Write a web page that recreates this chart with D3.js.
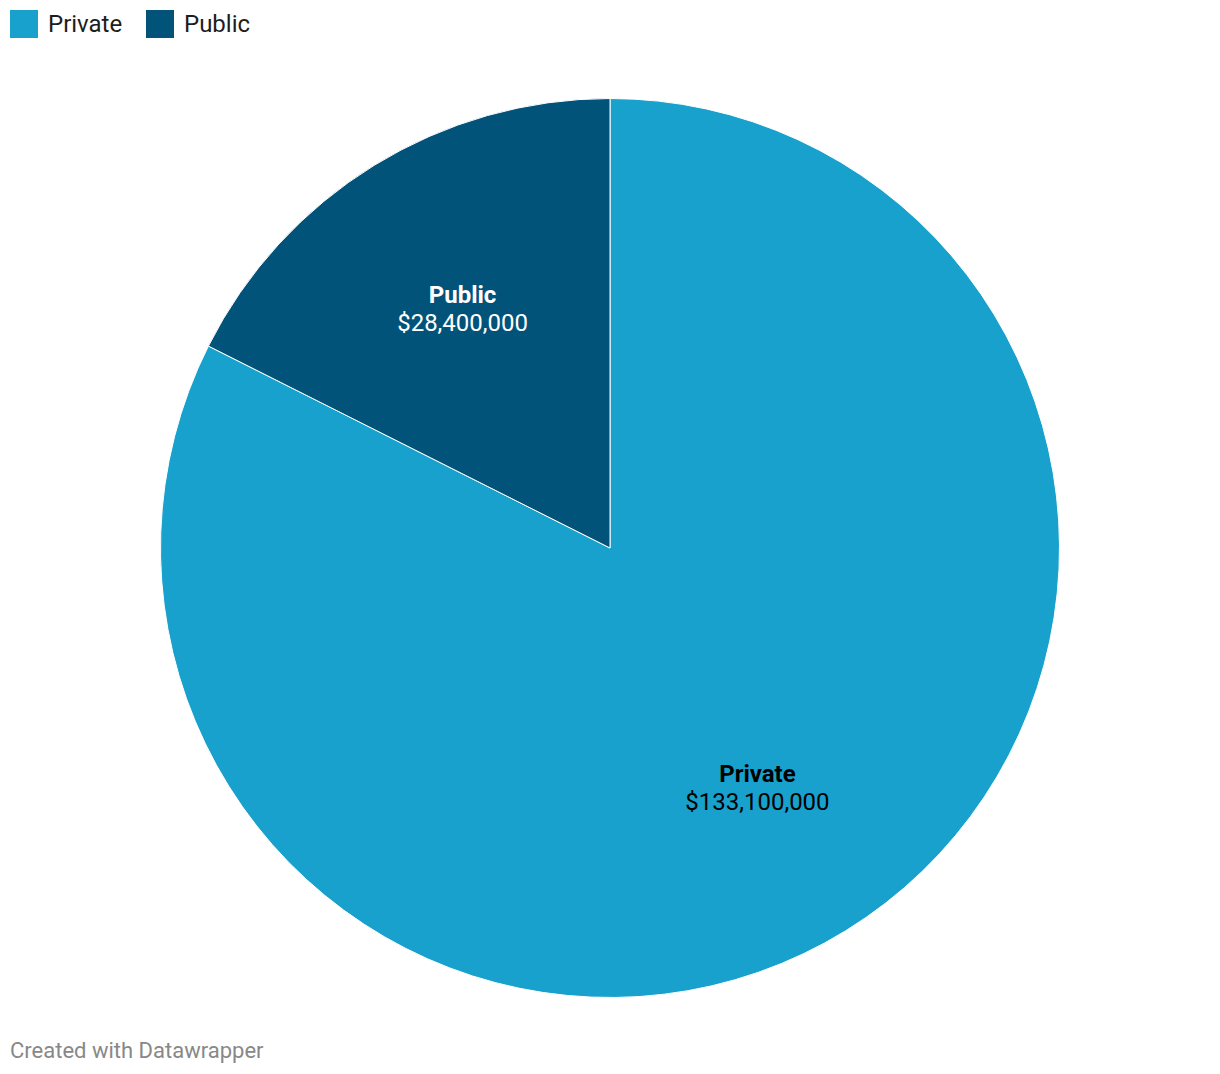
<!DOCTYPE html>
<html><head><meta charset="utf-8">
<script src="https://cdn.jsdelivr.net/npm/d3@7"></script>
<style>body{margin:0;background:#fff;font-family:Roboto,sans-serif;}</style>
</head><body><svg id="c" width="1220" height="1074"></svg>
<script>
const categories = ["Private", "Public"];
const values = [133100000, 28400000];
const colors = ["#18a1cd", "#02537a"];
const labelColors = ["#000000", "#ffffff"];

const svg = d3.select("#c");
const cx = 610, cy = 548, R = 449.5;

// legend
const leg = svg.append("g");
const legX = [10, 146];
categories.forEach((c, i) => {
  leg.append("rect").attr("x", legX[i]).attr("y", 10).attr("width", 28).attr("height", 28).attr("fill", colors[i]);
  leg.append("text").attr("x", legX[i] + 38).attr("y", 24).attr("dy", "0.35em")
    .attr("font-size", 24).attr("fill", "#1d1d1d").text(c);
});

const data = categories.map((c, i) => ({ name: c, value: values[i], i }));
const pie = d3.pie().value(d => d.value).sort(null);
const arcs = pie(data);
const arc = d3.arc().innerRadius(0).outerRadius(R);
const labelArc = d3.arc().innerRadius(R * 0.625).outerRadius(R * 0.625);

const g = svg.append("g").attr("transform", `translate(${cx},${cy})`);
g.selectAll("path").data(arcs).join("path")
  .attr("d", arc).attr("fill", d => colors[d.data.i])
  .attr("stroke", "#fff").attr("stroke-width", 1);

const fmt = d3.format("$,");
const lab = g.selectAll("g.lab").data(arcs).join("g").attr("class", "lab")
  .attr("transform", d => `translate(${labelArc.centroid(d)})`);
lab.append("text").attr("text-anchor", "middle").attr("y", -14).attr("dy", "0.35em")
  .attr("font-size", 24).attr("font-weight", 700).attr("fill", d => labelColors[d.data.i])
  .text(d => d.data.name);
lab.append("text").attr("text-anchor", "middle").attr("y", 14).attr("dy", "0.35em")
  .attr("font-size", 24).attr("fill", d => labelColors[d.data.i])
  .text(d => fmt(d.data.value));

svg.append("text").attr("x", 10).attr("y", 1050).attr("dy", "0.35em")
  .attr("font-size", 22).attr("fill", "#888").text("Created with Datawrapper");
</script></body></html>
